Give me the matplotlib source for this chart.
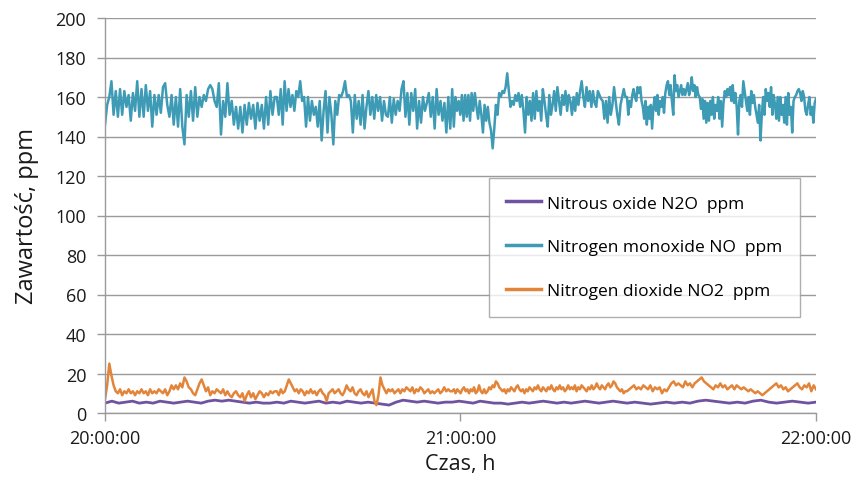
import numpy as np
import matplotlib
matplotlib.use("Agg")
import matplotlib.pyplot as plt
import datetime as dt

plt.rcParams['font.family'] = ['Open Sans', 'DejaVu Sans']

# Segment time bounds (minutes after 20:00)
seg_bounds = [0.0, 29.0, 58.6, 88.1, 120.0]

# Nitrogen monoxide NO, ppm (4 segments)
no_a = [146, 156, 160, 168, 151, 163, 150, 164, 151, 163, 155, 161, 148, 162, 153, 168, 150, 164, 150, 166,
        153, 163, 145, 161, 151, 161, 152, 165, 167, 156, 150, 161, 146, 160, 145, 164, 145, 136, 161, 150,
        163, 148, 165, 150, 160, 155, 161, 158, 164, 166, 164, 158, 155, 167, 141, 158, 150, 167, 151, 158,
        146, 155, 144, 155, 142, 156, 146, 157, 149, 156, 144, 157, 148, 156, 144, 160, 146, 163, 151, 160]
no_b = [160, 151, 164, 146, 168, 153, 164, 155, 161, 153, 163, 160, 168, 158, 160, 145, 160, 148, 158, 151,
        155, 145, 158, 138, 153, 163, 142, 160, 151, 136, 158, 151, 161, 160, 163, 168, 160, 161, 158, 142,
        161, 149, 158, 146, 161, 144, 155, 163, 151, 160, 149, 161, 153, 160, 148, 158, 151, 150, 160, 147,
        159, 151, 158, 153, 164, 168, 150, 162, 146, 162, 153, 164, 144, 158, 147, 160, 153, 157, 162, 150,
        160, 144, 164, 151, 158, 148, 157, 142, 160, 144]
no_c = [164, 145, 160, 153, 158, 151, 161, 148, 161, 150, 161, 148, 162, 153, 162, 155, 149, 158, 151, 142,
        156, 148, 155, 147, 143, 134, 144, 156, 151, 162, 160, 163, 162, 165, 172, 163, 155, 158, 156, 161,
        158, 162, 155, 161, 153, 142, 160, 151, 158, 148, 162, 149, 163, 153, 158, 148, 164, 158, 151, 145,
        161, 151, 156, 163, 153, 165, 158, 151, 161, 156, 163, 153, 161, 158, 151, 160, 153, 162, 156, 163,
        168, 160, 155, 165, 158, 163, 155, 163, 157, 155, 163, 161, 159, 158, 149, 158, 147, 160, 151, 156,
        165, 158, 151, 146, 156, 160, 164, 160]
no_d = [160, 151, 158, 155, 161, 164, 160, 158, 165, 162, 165, 158, 155, 149, 158, 146, 155, 149, 156, 144,
        155, 160, 153, 161, 151, 158, 155, 160, 152, 162, 166, 168, 161, 166, 158, 151, 171, 163, 166, 160,
        163, 166, 161, 164, 161, 164, 167, 161, 164, 170, 163, 166, 160, 165, 161, 160, 154, 159, 149, 158,
        147, 157, 148, 158, 151, 160, 149, 156, 153, 160, 149, 158, 145, 157, 163, 160, 164, 161, 165, 158,
        166, 157, 162, 155, 141, 158, 161, 155, 168, 163, 158, 153, 160, 151, 163, 157, 161, 155, 151, 147,
        156, 138, 151, 160, 151, 164, 158, 162, 155, 165, 151, 161, 156, 149, 160, 148, 160, 151, 156, 147,
        160, 146, 162, 151, 155, 142, 158, 160, 161, 163, 164, 162, 158, 163, 160, 153, 151, 156, 160, 151,
        155, 147, 157, 159]

# Nitrogen dioxide NO2, ppm
no2_a = [7, 14, 25, 19, 14, 11, 10, 12, 9, 11, 10, 12, 10, 11, 9, 11, 10, 12, 10, 11,
         9, 12, 10, 11, 10, 12, 11, 10, 12, 9, 11, 14, 12, 14, 12, 15, 13, 18, 16, 13,
         12, 10, 9, 12, 15, 17, 14, 11, 13, 9, 11, 10, 12, 11, 10, 12, 9, 11, 9, 8,
         10, 11, 9, 8, 10, 6, 9, 11, 8, 10, 7, 9, 11, 10, 8, 10, 9, 11, 10, 11]
no2_b = [11, 9, 12, 10, 11, 14, 17, 15, 13, 11, 12, 10, 12, 11, 9, 11, 10, 12, 10, 11,
         9, 11, 12, 10, 9, 6, 10, 11, 12, 10, 11, 12, 10, 9, 11, 14, 12, 11, 13, 10,
         9, 11, 12, 10, 9, 11, 8, 10, 12, 6, 4, 9, 18, 14, 12, 10, 12, 11, 12, 10,
         11, 12, 10, 12, 11, 13, 12, 11, 13, 10, 12, 11, 13, 12, 10, 11, 12, 10, 11, 10,
         11, 12, 10, 11, 13, 11, 12, 11]
no2_c = [11, 12, 10, 12, 11, 10, 12, 13, 11, 12, 10, 12, 11, 13, 10, 11, 14, 11, 10, 12,
         10, 11, 13, 12, 14, 13, 16, 15, 13, 12, 11, 12, 10, 12, 11, 13, 12, 11, 13, 14,
         12, 11, 12, 10, 12, 11, 13, 12, 11, 13, 12, 14, 12, 11, 13, 12, 11, 13, 12, 14,
         12, 11, 13, 12, 14, 12, 13, 11, 12, 14, 12, 13, 12, 14, 11, 13, 12, 14, 13, 12,
         11, 13, 12, 14, 12, 13, 15, 13, 12, 14, 13, 12, 14, 15, 13, 14, 16, 15, 13, 12,
         11, 12, 10, 11]
no2_d = [11, 12, 13, 14, 12, 13, 12, 14, 13, 12, 14, 11, 13, 12, 13, 10, 12, 11, 13, 15,
         16, 14, 15, 14, 13, 16, 14, 15, 13, 15, 16, 17, 18, 16, 15, 14, 13, 12, 14, 13,
         15, 13, 14, 12, 13, 14, 12, 14, 13, 12, 13, 12, 11, 12, 11, 10, 11, 10, 9, 10,
         11, 12, 13, 14, 15, 13, 14, 12, 13, 11, 12, 13, 14, 15, 13, 12, 14, 13, 15, 11,
         14, 12]

# Nitrous oxide N2O, ppm
n2o_a = [5, 6, 5, 5.5, 6, 5, 5.5, 5, 6, 5.5, 5, 5.5, 6, 5.5, 5, 6, 6.5, 6, 6.5, 6, 5.5, 5, 5.5, 5, 5]
n2o_b = [5.5, 5, 6, 5.5, 5, 5.5, 6, 5, 5.5, 5, 6, 5.5, 5, 5.5, 5, 4.5, 4, 5.5, 6.5, 6, 5.5, 6, 5.5, 5, 5.5]
n2o_c = [5.5, 6, 5.5, 5, 6, 5.5, 5, 5, 4.5, 5, 5.5, 5, 5.5, 6, 5.5, 5, 5.5, 5, 5.5, 6, 5.5, 5, 5.5, 6, 5.5]
n2o_d = [5, 5.5, 5, 4.5, 5, 5.5, 5, 5.5, 5, 6, 6.5, 6, 5.5, 5, 5.5, 5, 6, 6.5, 5.5, 5, 5.5, 6, 5.5, 5, 5.5]

labels = ['Nitrous oxide N2O  ppm', 'Nitrogen monoxide NO  ppm', 'Nitrogen dioxide NO2  ppm']
colors = ['#6F53A0', '#3E9BB5', '#E2853A']
x_ticks_labels = ['20:00:00', '21:00:00', '22:00:00']
y_ticks = [0, 20, 40, 60, 80, 100, 120, 140, 160, 180, 200]

start = dt.datetime(2020, 1, 1, 20, 0, 0)


def build(segments):
    xs, ys = [], []
    for i, seg in enumerate(segments):
        a, b = seg_bounds[i], seg_bounds[i + 1]
        endpoint = (i == len(segments) - 1)
        t = np.linspace(a, b, len(seg), endpoint=endpoint)
        xs.extend(t)
        ys.extend(seg)
    times = [start + dt.timedelta(minutes=float(m)) for m in xs]
    return times, np.array(ys, dtype=float)


series = [build([n2o_a, n2o_b, n2o_c, n2o_d]),
          build([no_a, no_b, no_c, no_d]),
          build([no2_a, no2_b, no2_c, no2_d])]

fig = plt.figure(figsize=(8.56, 4.81), dpi=100)
ax = fig.add_axes([105 / 856, 1 - 414 / 481, (816 - 105) / 856, (414 - 19) / 481])

handles = []
widths = [2.0, 1.8, 1.8]
for (t, y), c, lab, w in zip(series, colors, labels, widths):
    h, = ax.plot(t, y, color=c, lw=w, label=lab)
    handles.append(h)

ax.set_ylim(0, 200)
ax.set_yticks(y_ticks)
ax.set_xlim(start, start + dt.timedelta(hours=2))
ax.set_xticks([start + dt.timedelta(hours=h) for h in range(3)])
ax.set_xticklabels(x_ticks_labels)

ax.grid(axis='y', color='#9a9a9a', lw=1.0)
ax.set_axisbelow(True)
for s in ['top', 'right']:
    ax.spines[s].set_visible(False)
for s in ['left', 'bottom']:
    ax.spines[s].set_color('#9a9a9a')
    ax.spines[s].set_linewidth(1.0)
ax.tick_params(axis='both', colors='#9a9a9a', labelcolor='#1a1a1a', labelsize=13, length=5.5, width=1.0)
ax.tick_params(axis='y', pad=8)
ax.tick_params(axis='x', pad=6)

ax.set_ylabel('Zawartość, ppm', fontsize=17, color='#1a1a1a', labelpad=12)
ax.set_xlabel('Czas, h', fontsize=15.5, color='#1a1a1a', labelpad=4)

leg = fig.legend(handles=handles, loc='upper left',
                 bbox_to_anchor=(489 / 856, 1 - 179 / 481),
                 fontsize=12.5, frameon=True, fancybox=False, edgecolor='#9a9a9a',
                 handlelength=2.0, handletextpad=0.35, labelspacing=1.6, borderpad=1.0,
                 borderaxespad=0.0)
leg.get_frame().set_linewidth(1.0)
for lh in leg.get_lines():
    lh.set_linewidth(2.5)

fig.savefig('out.png', dpi=100)
